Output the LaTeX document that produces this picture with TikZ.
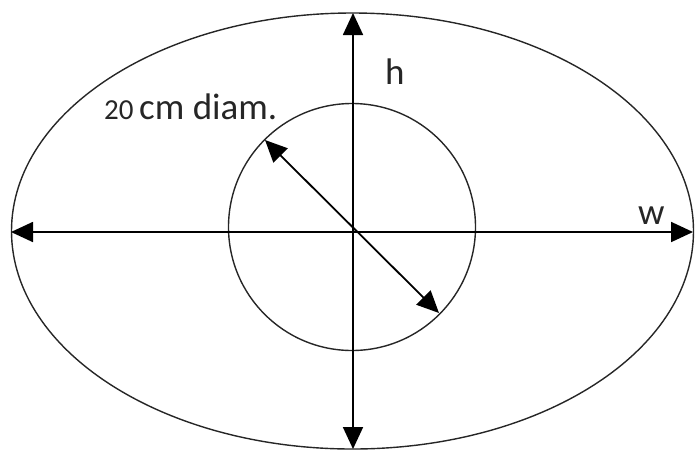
\documentclass[tikz,border=0pt]{standalone}
\usepackage{fontspec}
\setmainfont{Carlito}
\usetikzlibrary{arrows.meta}
\begin{document}
\begin{tikzpicture}[x=1pt,y=-1pt,
  outline/.style={line width=1.4pt,black!85},
  dimarrow/.style={line width=1.8pt,{Triangle[length=22pt,width=20pt]}-{Triangle[length=22pt,width=20pt]}},
  lbl/.style={inner sep=0pt,anchor=base west,text=black!85}]
\useasboundingbox (0,0) rectangle (695,451);
\coordinate (c) at (352.5,231);
\draw[outline] (c) ellipse [x radius=341, y radius=218];
\node[draw,outline,circle,minimum size=247pt,inner sep=0pt] (circ) at (352,227) {};
\coordinate (top) at (353,13);
\coordinate (bot) at (353,449);
\coordinate (lft) at (11,232);
\coordinate (rgt) at (693,232);
\coordinate (d1) at (265,140);
\coordinate (d2) at (439,313);
\draw[dimarrow] (bot) -- (top);
\draw[dimarrow] (lft) -- (rgt);
\draw[dimarrow] (d1) -- (d2);
\node[lbl,font=\fontsize{29}{30}\selectfont] (twenty) at (104,119) {20};
\node[lbl,font=\fontsize{37}{40}\selectfont] (cmd) at (139,119) {cm diam.};
\node[lbl,font=\fontsize{37}{40}\selectfont] (h) at (385,84) {h};
\node[lbl,font=\fontsize{37}{40}\selectfont] (w) at (638,224) {w};
\end{tikzpicture}
\end{document}
